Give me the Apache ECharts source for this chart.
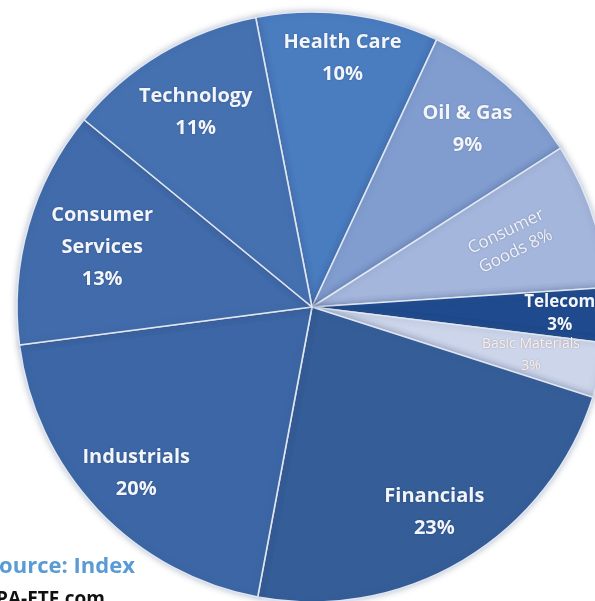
<!DOCTYPE html>
<html>
<head>
<meta charset="utf-8">
<script src="https://cdn.jsdelivr.net/npm/echarts@6/dist/echarts.min.js"></script>
<style>
  html, body { margin: 0; padding: 0; background: #fff; }
  #chart { width: 595px; height: 601px; }
</style>
</head>
<body>
<div id="chart"></div>
<script>
// sectors, clockwise from the top
var sectors = ["Health Care", "Oil & Gas", "Consumer Goods", "Telecom", "Basic Materials",
               "Financials", "Industrials", "Consumer Services", "Technology"];
var weights = [10, 9, 8, 3, 3, 23, 20, 13, 11];
var sliceColors = ["#4a7cc0", "#819dd0", "#a5b6dc", "#1f4b8e", "#cdd5ea",
                   "#355d98", "#3c66a5", "#416baa", "#4571b1"];
var sourceLines = ["Source: Index", "PA-ETF.com"];

var cx = 312, cy = 307, R = 295;

// how far out each label sits (as a share of the radius)
var labelReach = [0.85, 0.8, 0.71, 0.84, 0.76, 0.81, 0.82, 0.74, 0.77];

var chart = echarts.init(document.getElementById("chart"));

var items = sectors.map(function (name, i) {
  var it = { name: name, value: weights[i], itemStyle: { color: sliceColors[i] } };
  if (name === "Consumer Goods") {
    it.label = { rotate: 26, fontSize: 17, fontWeight: "normal", lineHeight: 22, color: "#eef2fa" };
  } else if (name === "Telecom") {
    it.label = { fontSize: 17, lineHeight: 23 };
  } else if (name === "Basic Materials") {
    it.label = { fontSize: 14, fontWeight: "normal", lineHeight: 22, color: "#fbeee9" };
  }
  return it;
});

chart.setOption({
  backgroundColor: "#fff",
  animation: false,
  series: [{
    type: "pie",
    center: [cx, cy],
    radius: [0, R],
    startAngle: 101,
    clockwise: true,
    avoidLabelOverlap: false,
    data: items,
    itemStyle: {
      borderColor: "#dfe7f3",
      borderWidth: 1.6,
      shadowColor: "rgba(60,80,120,0.35)",
      shadowBlur: 6
    },
    label: {
      position: "inside",
      color: "#f2f5fb",
      fontFamily: "Open Sans",
      fontWeight: "bold",
      fontSize: 20,
      lineHeight: 32,
      textShadowColor: "rgba(0,0,0,0.25)",
      textShadowBlur: 2,
      formatter: function (p) {
        if (p.name === "Consumer Services") return "Consumer\nServices\n" + p.value + "%";
        if (p.name === "Consumer Goods") return "Consumer\nGoods " + p.value + "%";
        return p.name + "\n" + p.value + "%";
      }
    },
    labelLine: { show: false },
    labelLayout: function (p) {
      var r = p.labelRect;
      var lx = r.x + r.width / 2, ly = r.y + r.height / 2;
      var dx = lx - cx, dy = ly - cy;
      var d = Math.sqrt(dx * dx + dy * dy) || 1;
      var k = labelReach[p.dataIndex] * R / d;
      return { x: cx + dx * k, y: cy + dy * k };
    }
  }],
  graphic: [
    {
      type: "text", left: -13, top: 556,
      style: { text: sourceLines[0], fill: "#5b9bd5", font: "bold 22px 'Open Sans'" }
    },
    {
      type: "text", left: -4, top: 590,
      style: { text: sourceLines[1], fill: "#111", font: "bold 19px 'Open Sans'" }
    }
  ]
});
</script>
</body>
</html>
